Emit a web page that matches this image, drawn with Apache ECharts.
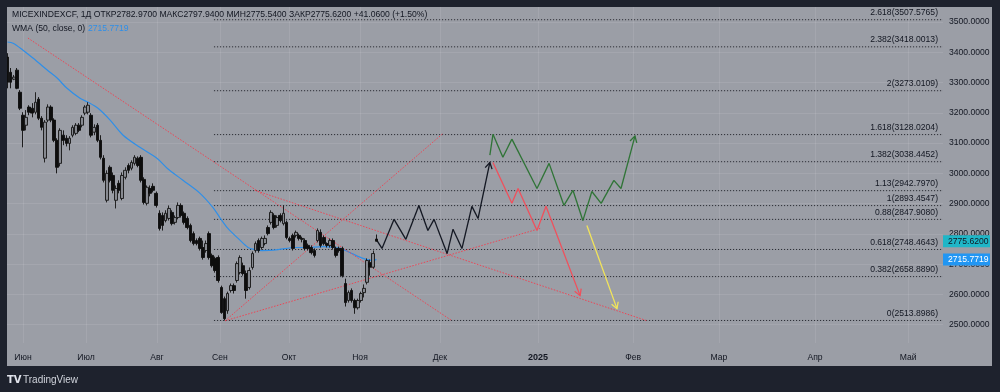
<!DOCTYPE html>
<html><head><meta charset="utf-8">
<script src="https://cdn.jsdelivr.net/npm/echarts@6/dist/echarts.min.js"></script>
<style>html,body{margin:0;padding:0;background:#1e222d}#c{width:1000px;height:392px}</style>
</head><body><div id="c"></div>
<script>
// ---- time axis (bar index units) ----
const monthLabels = ['Июн','Июл','Авг','Сен','Окт','Ноя','Дек','2025','Фев','Мар','Апр','Май'];
const monthPos    = [5.0, 25.3, 48.2, 68.5, 90.8, 113.7, 139.5, 171.1, 201.8, 229.5, 260.5, 290.5];
const priceTicks  = [2500,2600,2700,2800,2900,3000,3100,3200,3300,3400,3500];

// ---- daily candles MICEXINDEXCF ----
const opens  = [3384,3334,3311,3341,3268,3192,3159,3219,3215,3202,3245,3182,3050,3176,3219,3176,3109,3033,3126,3116,
                3099,3126,3132,3159,3159,3199,3202,3192,3136,3159,3109,3050,2911,3020,2993,2911,2967,2917,2987,3026,
                3017,3033,3050,3053,2980,2901,2950,2957,2934,2868,2861,2844,2851,2871,2838,2854,2894,2868,2851,2828,
                2801,2778,2785,2755,2745,2801,2729,2719,2722,2623,2586,2546,2613,2629,2646,2672,2695,2669,2623,2689,
                2745,2778,2755,2768,2821,2838,2861,2828,2861,2834,2838,2785,2795,2795,2795,2785,2778,2762,2755,2745,
                2778,2805,2788,2768,2762,2778,2752,2752,2752,2636,2580,2613,2580,2556,2580,2606,2640,2705,2690,2782.97];
const closes = [3301,3301,3318,3281,3215,3142,3185,3202,3199,3235,3182,3152,3169,3219,3176,3109,3020,3142,3109,3099,
                3116,3152,3159,3142,3185,3219,3225,3126,3152,3109,3053,2977,3000,2977,2944,2950,2944,2993,3010,3010,
                3036,3053,3026,2977,2904,2954,2934,2944,2894,2818,2828,2868,2884,2834,2854,2894,2861,2838,2821,2778,
                2768,2768,2752,2722,2768,2722,2695,2679,2646,2540,2520,2603,2629,2613,2702,2722,2669,2613,2679,2735,
                2768,2745,2785,2785,2801,2871,2821,2854,2844,2868,2788,2778,2752,2805,2785,2782,2752,2752,2738,2729,
                2811,2762,2768,2762,2778,2755,2729,2745,2662,2573,2606,2580,2556,2580,2603,2620,2712,2690,2735,2775.62];
const lows   = [3281,3281,3308,3278,3209,3086,3142,3192,3185,3195,3176,3142,3036,3169,3169,3103,3000,3023,3093,3089,
                3076,3119,3126,3136,3152,3192,3195,3119,3126,3103,3046,2970,2904,2970,2934,2884,2934,2911,2980,3000,
                3010,3026,3020,2970,2897,2894,2924,2937,2887,2811,2811,2838,2844,2828,2831,2848,2854,2831,2815,2772,
                2762,2762,2745,2715,2738,2715,2689,2672,2639,2536,2514,2536,2606,2603,2639,2666,2662,2586,2616,2682,
                2738,2738,2748,2762,2795,2831,2815,2821,2838,2828,2782,2772,2745,2788,2778,2772,2745,2745,2732,2722,
                2772,2755,2762,2755,2755,2748,2722,2738,2656,2560,2573,2573,2536,2550,2573,2590,2633,2662,2685,2775.54];
const highs  = [3397,3348,3325,3348,3275,3202,3209,3225,3232,3268,3252,3189,3176,3228,3225,3182,3116,3149,3142,3126,
                3123,3159,3166,3166,3192,3225,3235,3199,3162,3166,3126,3060,3010,3026,3003,2960,2977,3003,3020,3033,
                3043,3060,3056,3060,2987,2960,2960,2967,2940,2878,2871,2878,2894,2878,2861,2904,2901,2874,2858,2834,
                2808,2785,2791,2778,2778,2808,2735,2725,2729,2629,2593,2609,2636,2636,2709,2729,2705,2679,2689,2742,
                2775,2785,2791,2795,2828,2878,2868,2861,2868,2894,2844,2791,2801,2811,2801,2791,2785,2768,2762,2752,
                2818,2815,2795,2772,2785,2785,2758,2758,2758,2652,2613,2620,2586,2586,2609,2633,2719,2715,2745,2797.94];

// ---- WMA(50) readings [bar index, value] ----
const wmaPoints = [[0,3434],[1.8,3430],[5,3407],[8.2,3381],[13.7,3334],[16,3315],[19.2,3281],[23.4,3248],[26,3235],
  [29.2,3215],[33.1,3176],[37.3,3126],[42.7,3086],[48.2,3050],[51.5,3017],[56.6,2977],[62.1,2934],[66.3,2887],
  [68.5,2854],[71.1,2818],[74.4,2785],[77.6,2755],[79.8,2748],[82.1,2745],[87.3,2748],[92.7,2755],[96.6,2755],
  [101.8,2758],[107.3,2752],[111.1,2735],[114.7,2719],[117.9,2712],[119,2715.7719]];

// ---- Fibonacci extension ----
const fibRatios = ['0','0.382','0.618','0.88','1','1.13','1.382','1.618','2','2.382','2.618'];
const fibValues = [2513.8986,2658.8890,2748.4643,2847.9080,2893.4547,2942.7970,3038.4452,3128.0204,3273.0109,3418.0013,3507.5765];
const fibStart = 66.6;

// ---- drawings [bar index, price] ----
const trendLines = [
  [[6.6,3447],[143.4,2513]],
  [[70.2,2513],[140.5,3132]],
  [[70.2,2513],[171.8,2818]],
  [[79.8,2944],[206.3,2513]]
];
const blackPath  = [[119.2,2778],[120.8,2752],[124.7,2848],[128.5,2782],[132.7,2894],[135.6,2811],[137.6,2848],
                    [141.8,2735],[143.7,2815],[146.6,2752],[149.8,2891],[151.8,2851],[155.6,3036]];
const redPath    = [[156.6,3036],[162.7,2901],[164.7,2950],[170.8,2811],[173.7,2891],[184.7,2596]];
const greenPath  = [[155.6,3060],[156.6,3129],[159.8,3053],[162.7,3113],[170.8,2950],[174.7,3033],[179.5,2894],
                    [182.4,2944],[185.6,2844],[188.5,2940],[191.5,2901],[195.6,2977],[197.9,2950],[202.4,3123]];
const yellowPath = [[186.9,2828],[196.6,2553]];

const lastClose = 2775.62;
const wmaLast = 2715.7719;

// ---- build ----
const FONT = '"Liberation Sans",Arial,sans-serif';
const FS = 8.6;
const TXT = '#131722';
const candleData = opens.map((o,i)=>[i,o,closes[i],lows[i],highs[i]]);

function segs(path, arrow){
  const out=[];
  for(let i=0;i<path.length-1;i++){
    out.push([path[i][0],path[i][1],path[i+1][0],path[i+1][1], (arrow && i===path.length-2)?1:0]);
  }
  return out;
}
function pathSeries(data, color, width, dash){
  return {
    type:'custom', coordinateSystem:'cartesian2d', clip:true, silent:true, z:5,
    dimensions:['x1','y1','x2','y2','a'], encode:{x:[0,2], y:[1,3]},
    data:data,
    renderItem:function(params, api){
      const p1=api.coord([api.value(0),api.value(1)]);
      const p2=api.coord([api.value(2),api.value(3)]);
      const children=[{type:'line', shape:{x1:p1[0],y1:p1[1],x2:p2[0],y2:p2[1]},
        style:{stroke:color, lineWidth:width, lineDash:dash||null}}];
      if(api.value(4)===1){
        const dx=p2[0]-p1[0], dy=p2[1]-p1[1], L=Math.hypot(dx,dy);
        const ux=dx/L, uy=dy/L, len=7, a=Math.PI/6;
        const rot=(t)=>[ux*Math.cos(t)-uy*Math.sin(t), ux*Math.sin(t)+uy*Math.cos(t)];
        const r1=rot(a), r2=rot(-a);
        children.push({type:'polyline', shape:{points:[[p2[0]-r1[0]*len,p2[1]-r1[1]*len],[p2[0],p2[1]],[p2[0]-r2[0]*len,p2[1]-r2[1]*len]]},
          style:{stroke:color, lineWidth:width, fill:null}});
      }
      return {type:'group', children};
    }
  };
}

const trendSegs = trendLines.map(l=>[l[0][0],l[0][1],l[1][0],l[1][1],0]);

const chart = echarts.init(document.getElementById('c'), null, {renderer:'canvas'});
const option = {
  animation:false,
  backgroundColor:'#9b9ea6',
  grid:{left:7, right:57, top:7, bottom:49, containLabel:false},
  xAxis:{
    type:'value', min:-0.16, max:301.77,
    axisLine:{show:false},
    axisTick:{show:false, customValues:monthPos},
    splitLine:{show:true, lineStyle:{color:'rgba(255,255,255,0.09)', width:1}},
    axisLabel:{customValues:monthPos, margin:10, color:TXT, fontSize:FS, fontFamily:FONT,
      formatter:function(v){
        const i = monthPos.findIndex(p=>Math.abs(p-v)<0.01);
        const s = i>=0 ? monthLabels[i] : '';
        return s==='2025' ? '{b|'+s+'}' : s;
      },
      rich:{b:{fontWeight:'bold', color:TXT, fontSize:FS+0.4, fontFamily:FONT}}
    }
  },
  yAxis:{
    type:'value', position:'right', min:2439.5, max:3549.6, scale:true,
    axisLine:{show:false},
    axisTick:{show:false, customValues:priceTicks},
    splitLine:{show:true, lineStyle:{color:'rgba(255,255,255,0.09)', width:1}},
    axisLabel:{customValues:priceTicks, margin:6, color:TXT, fontSize:FS, fontFamily:FONT,
      formatter:v=>v.toFixed(4)}
  },
  series:[
    {
      type:'custom', coordinateSystem:'cartesian2d', clip:false, silent:true, z:3,
      dimensions:['x','y','i'], encode:{x:0, y:1},
      data: fibValues.map((v,i)=>[fibStart, v, i]),
      renderItem:function(params, api){
        const p=api.coord([api.value(0),api.value(1)]);
        const right=params.coordSys.x+params.coordSys.width;
        const i=api.value(2);
        return {type:'group', children:[
          {type:'line', shape:{x1:p[0],y1:p[1],x2:right,y2:p[1]},
            style:{stroke:'#2d2f36', lineWidth:1, lineDash:[1.2,1.8]}},
          {type:'text', x:right-5, y:p[1]-2.5,
            style:{text:fibRatios[i]+'('+fibValues[i].toFixed(4)+')', fill:TXT, font:FS+'px '+FONT, align:'right', verticalAlign:'bottom'}}
        ]};
      }
    },
    pathSeries(trendSegs, '#ec4656', 1, [1.5,1.5]),
    {
      type:'line', data:wmaPoints, showSymbol:false, smooth:0.3, z:4, silent:true,
      lineStyle:{color:'#2f8fe8', width:1.2}
    },
    {
      type:'candlestick', data:candleData, dimensions:['x','open','close','lowest','highest'],
      encode:{x:0, y:[1,2,3,4]}, barWidth:3.2, z:6, silent:true,
      itemStyle:{color:'#878a91', color0:'#0d0d0d', borderColor:'#151515', borderColor0:'#0d0d0d', borderWidth:0.9}
    },
    pathSeries(segs(blackPath,true), '#131722', 1.3),
    pathSeries(segs(redPath,true), '#f0505c', 1.3),
    pathSeries(segs(greenPath,true), '#2f7436', 1.3),
    pathSeries(segs(yellowPath,true), '#f2e45a', 1.3),
    {
      type:'custom', coordinateSystem:'cartesian2d', clip:false, silent:true, z:20,
      dimensions:['x','y','k'], encode:{x:0, y:1},
      data:[[0,lastClose,0],[0,wmaLast,1]],
      renderItem:function(params, api){
        const p=api.coord([0,api.value(1)]);
        const right=params.coordSys.x+params.coordSys.width;
        const k=api.value(2);
        const bg = k===0 ? '#1fb6c7' : '#2196f3';
        const fg = k===0 ? '#131722' : '#ffffff';
        return {type:'group', children:[
          {type:'rect', shape:{x:right, y:p[1]-6, width:47, height:12}, style:{fill:bg}},
          {type:'text', x:right+5, y:p[1], style:{text:api.value(1).toFixed(4), fill:fg, font:FS+'px '+FONT, verticalAlign:'middle'}}
        ]};
      }
    }
  ],
  graphic:[
    {type:'rect', shape:{x:0,y:0,width:1000,height:7}, style:{fill:'#1e222d'}, z:100},
    {type:'rect', shape:{x:0,y:0,width:7,height:392}, style:{fill:'#1e222d'}, z:100},
    {type:'rect', shape:{x:992,y:0,width:8,height:392}, style:{fill:'#1e222d'}, z:100},
    {type:'rect', shape:{x:0,y:366,width:1000,height:26}, style:{fill:'#1e222d'}, z:100},
    {type:'text', x:12, y:15, z:101, style:{text:'MICEXINDEXCF, 1Д ОТКР2782.9700 МАКС2797.9400 МИН2775.5400 ЗАКР2775.6200 +41.0600 (+1.50%)', fill:TXT, font:FS+'px '+FONT, verticalAlign:'middle'}},
    {type:'text', x:12, y:29, z:101, style:{text:'WMA (50, close, 0)', fill:TXT, font:FS+'px '+FONT, verticalAlign:'middle'}},
    {type:'text', x:88, y:29, z:101, style:{text:'2715.7719', fill:'#2f8fe8', font:FS+'px '+FONT, verticalAlign:'middle'}},
    {type:'text', x:7, y:380, z:101, style:{text:'TV', fill:'#e0e3eb', font:'900 10px "DejaVu Sans",sans-serif', verticalAlign:'middle'}},
    {type:'text', x:23, y:380, z:101, style:{text:'TradingView', fill:'#d1d4dc', font:'10px "Liberation Sans",Arial,sans-serif', verticalAlign:'middle'}}
  ]
};
chart.setOption(option);
</script>
</body></html>
